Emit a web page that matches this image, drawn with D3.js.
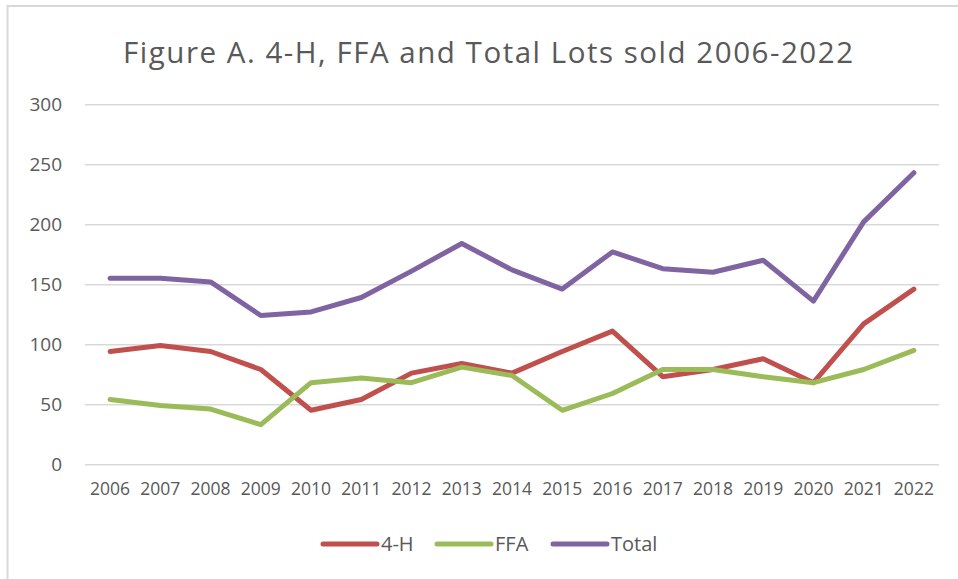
<!DOCTYPE html>
<html>
<head>
<meta charset="utf-8">
<script src="https://cdn.jsdelivr.net/npm/d3@7"></script>
<style>
  body { margin: 0; background: #fff; }
  svg text { font-family: "Open Sans", "Noto Sans", sans-serif; fill: #595959; }
</style>
</head>
<body>
<div class="chart"></div>
<script>
const years = ['2006','2007','2008','2009','2010','2011','2012','2013','2014','2015','2016','2017','2018','2019','2020','2021','2022']
const fourH = [94, 99, 94, 79, 45, 54, 76, 84, 76, 94, 111, 73, 79, 88, 68, 117, 146]
const ffa = [54, 49, 46, 33, 68, 72, 68, 81, 74, 45, 59, 79, 79, 73, 68, 79, 95]
const total = [155, 155, 152, 124, 127, 139, 161, 184, 162, 146, 177, 163, 160, 170, 136, 202, 243]
const yTicks = [0, 50, 100, 150, 200, 250, 300]

const seriesNames = ['4-H', 'FFA', 'Total']
const seriesValues = [fourH, ffa, total]
const colors = ['#c0504d', '#9bbb59', '#8064a2']

const width = 958
const height = 579
const plotLeft = 85, plotRight = 939, plotTop = 104.3, plotBottom = 464.3

const svg = d3.select('.chart')
  .append('svg')
  .attr('width', width)
  .attr('height', height)

// frame (only top and left edges are visible in the crop)
svg.append('path')
  .attr('d', `M7.5,${height} V6 H${width}`)
  .attr('fill', 'none')
  .attr('stroke', '#d9d9d9')
  .attr('stroke-width', 2)

svg.append('text')
  .attr('x', 123)
  .attr('y', 63)
  .attr('textLength', 730)
  .attr('lengthAdjust', 'spacing')
  .style('font-size', '29.5px')
  .text('Figure A. 4-H, FFA and Total Lots sold 2006-2022')

const xScale = d3.scaleBand()
  .domain(years)
  .range([plotLeft, plotRight])

const yScale = d3.scaleLinear()
  .domain([0, 300])
  .range([plotBottom, plotTop])

// gridlines + y labels
const yAxis = d3.axisLeft(yScale)
  .tickValues(yTicks)
  .tickSize(-(plotRight - plotLeft))
  .tickPadding(23)

svg.append('g')
  .attr('transform', `translate(${plotLeft},0)`)
  .call(yAxis)
  .call(g => g.select('.domain').remove())
  .call(g => g.selectAll('line').attr('stroke', '#d9d9d9').attr('stroke-width', 1.5))
  .call(g => g.selectAll('text').style('font-size', '19px').attr('fill', '#595959'))

// x labels
const xAxis = d3.axisBottom(xScale).tickSize(0).tickPadding(18)
svg.append('g')
  .attr('transform', `translate(0,${plotBottom})`)
  .call(xAxis)
  .call(g => g.select('.domain').remove())
  .call(g => g.selectAll('text').style('font-size', '17.5px').attr('fill', '#595959'))

const line = d3.line()
  .x((d, i) => xScale(years[i]) + xScale.bandwidth() / 2)
  .y(d => yScale(d))

svg.selectAll('.series')
  .data(seriesValues)
  .enter()
  .append('path')
  .attr('class', 'series')
  .attr('d', d => line(d))
  .attr('fill', 'none')
  .attr('stroke', (d, i) => colors[i])
  .attr('stroke-width', 5)
  .attr('stroke-linejoin', 'round')
  .attr('stroke-linecap', 'round')

// legend
const legendX = [323, 437, 553]
const legend = svg.selectAll('.legend')
  .data(seriesNames)
  .enter()
  .append('g')
  .attr('class', 'legend')
  .attr('transform', (d, i) => `translate(${legendX[i]},544)`)

legend.append('line')
  .attr('x1', 0).attr('x2', 54)
  .attr('stroke', (d, i) => colors[i])
  .attr('stroke-width', 5)
  .attr('stroke-linecap', 'round')

legend.append('text')
  .attr('x', 58)
  .attr('dy', '0.35em')
  .style('font-size', '20px')
  .text(d => d)
</script>
</body>
</html>
